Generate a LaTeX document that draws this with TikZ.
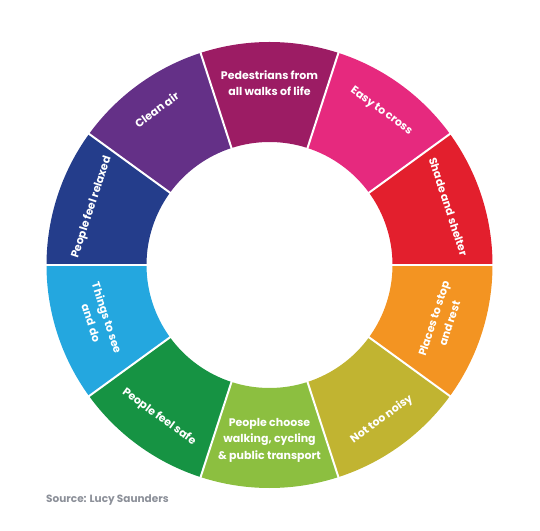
\documentclass[tikz,border=0pt]{standalone}
\usepackage{fontspec}
\setmainfont{Poppins}
\definecolor{cPed}{HTML}{9C1C64}
\definecolor{cEasy}{HTML}{E6297E}
\definecolor{cShade}{HTML}{E31F2D}
\definecolor{cPlaces}{HTML}{F39422}
\definecolor{cNoisy}{HTML}{C1B431}
\definecolor{cChoose}{HTML}{8CBF40}
\definecolor{cSafe}{HTML}{169343}
\definecolor{cThings}{HTML}{24A7DF}
\definecolor{cRelaxed}{HTML}{243D8B}
\definecolor{cClean}{HTML}{643087}
\definecolor{cSrc}{HTML}{8C9099}
\tikzset{
  lbl/.style={text=white, align=center, font=\bfseries\fontsize{11}{16.5}\selectfont, inner sep=0pt},
  sep/.style={draw=white, line width=2pt}
}
\begin{document}
\begin{tikzpicture}[x=1pt,y=1pt]
\useasboundingbox (0,0) rectangle (540,530);
\begin{scope}[shift={(269.5,265)}]
\foreach \a/\col in {72/cPed, 36/cEasy, 0/cShade, -36/cPlaces, -72/cNoisy, -108/cChoose, -144/cSafe, 180/cThings, 144/cRelaxed, 108/cClean}
  \fill[\col] (\a:123) -- (\a:223) arc[start angle=\a, end angle=\a+36, radius=223] -- (\a+36:123) arc[start angle=\a+36, end angle=\a, radius=123] -- cycle;
\foreach \a in {0,36,...,324}
  \draw[sep] (\a:120) -- (\a:226);
\node[lbl] (ped) at (90:182) {Pedestrians from\\all walks of life};
\node[lbl, rotate=-36] (easy) at (54:190) {Easy to cross};
\node[lbl, rotate=-72] (shade) at (18:188) {Shade and shelter};
\node[lbl, rotate=72] (places) at (-18:181) {Places to stop\\and rest};
\node[lbl, rotate=36] (noisy) at (-54:191) {Not too noisy};
\node[lbl] (choose) at (-90:175) {People choose\\walking, cycling\\\& public transport};
\node[lbl, rotate=-36] (safe) at (-126:188) {People feel safe};
\node[lbl, rotate=-72] (things) at (-162:179) {Things to see\\and do};
\node[lbl, rotate=72] (relaxed) at (162:187) {People feel relaxed};
\node[lbl, rotate=36] (clean) at (126:192) {Clean air};
\end{scope}
\node[anchor=west, text=cSrc, font=\bfseries\fontsize{10.5}{12}\selectfont, inner sep=0pt] (src) at (46,30) {Source: Lucy Saunders};
\end{tikzpicture}
\end{document}
